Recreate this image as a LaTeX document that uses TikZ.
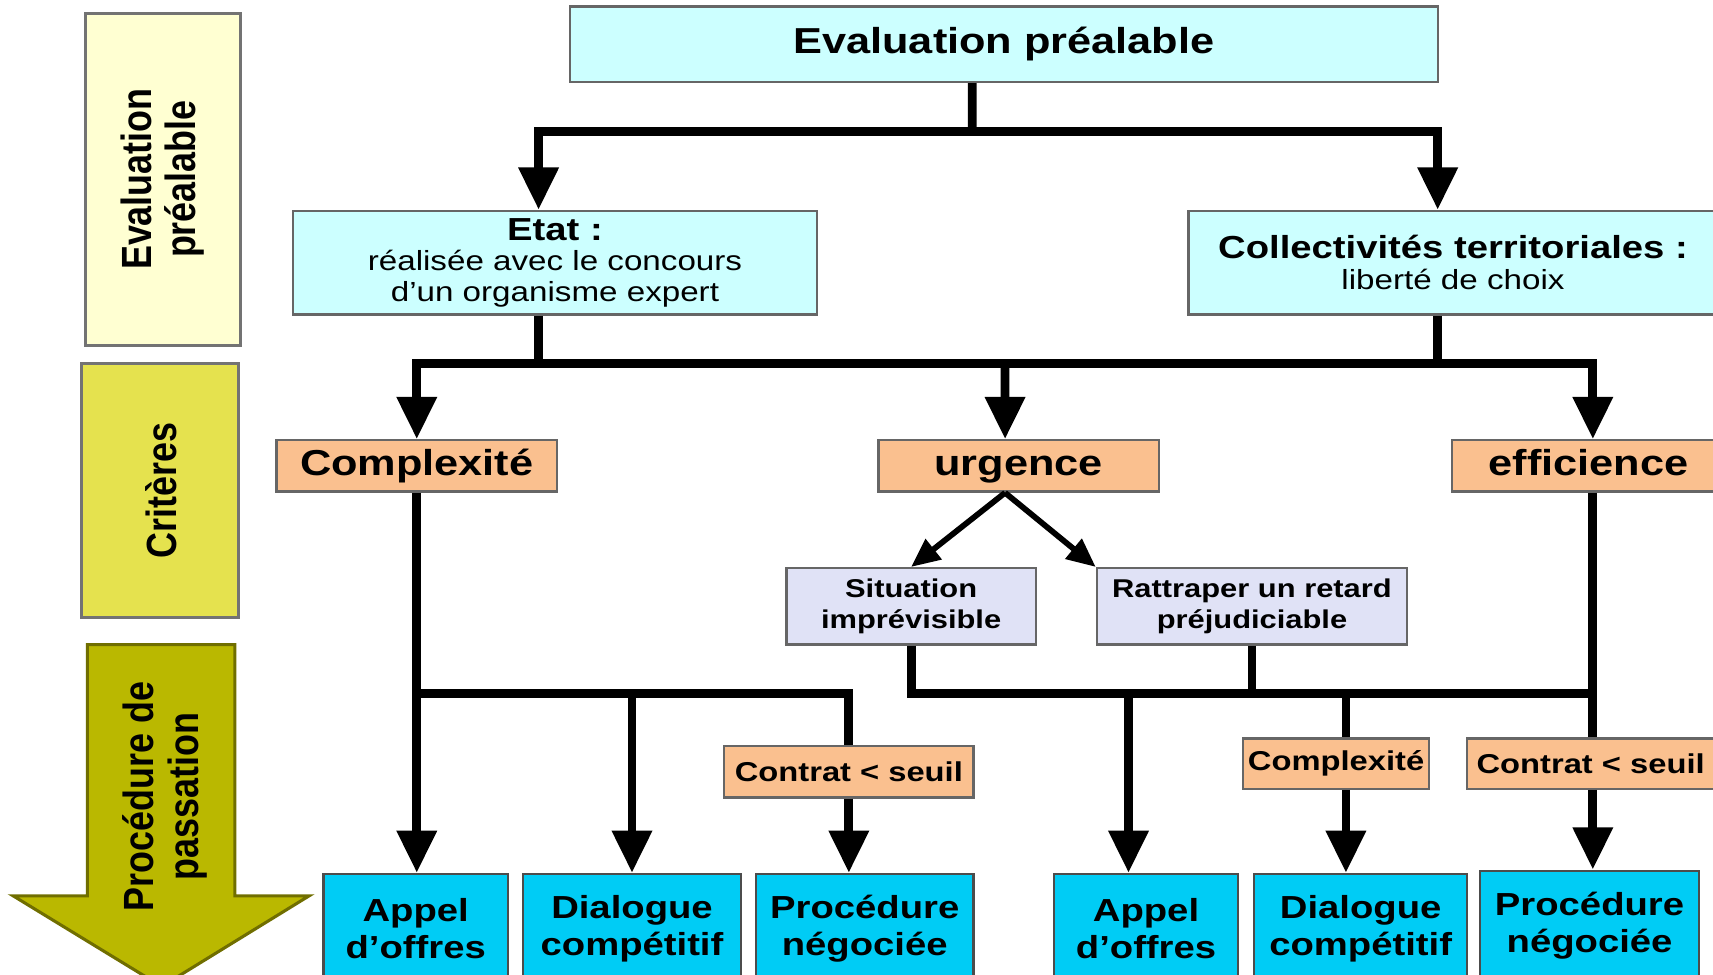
\documentclass[tikz,border=0pt]{standalone}
\usepackage{fontspec}
\setmainfont{Liberation Sans}[FakeStretch=1.2]
\newfontfamily\bandfont{Liberation Sans}[FakeStretch=0.85]
\usepackage{tikz}
\usetikzlibrary{arrows.meta}
\definecolor{paleyellow}{RGB}{255,255,210}
\definecolor{critgreen}{RGB}{229,226,78}
\definecolor{procolive}{RGB}{186,184,0}
\definecolor{palecyan}{RGB}{204,255,255}
\definecolor{peach}{RGB}{250,192,143}
\definecolor{lavender}{RGB}{224,226,246}
\definecolor{procblue}{RGB}{0,204,245}

\begin{document}
\begin{tikzpicture}[x=0.1mm,y=-0.1mm]
\useasboundingbox (0,0) rectangle (1568,892);
\tikzstyle{band}=[draw=black!55,line width=0.8pt]
\tikzstyle{bandtext}=[rotate=90,align=center,font=\bandfont\bfseries\fontsize{11}{11.6}\selectfont]
\tikzstyle{titlebox}=[rectangle,draw=black!60,fill=palecyan,line width=0.6pt,inner sep=0pt,font=\bfseries\fontsize{9.4}{11}\selectfont]
\tikzstyle{govbox}=[rectangle,draw=black!60,fill=palecyan,line width=0.6pt,inner sep=0pt,align=center,font=\fontsize{7.2}{8}\selectfont]
\tikzstyle{critbox}=[rectangle,draw=black!60,fill=peach,line width=0.6pt,inner sep=0pt,text height=7pt,text depth=2pt,font=\bfseries\fontsize{9.4}{11}\selectfont]
\tikzstyle{casebox}=[rectangle,draw=black!60,fill=lavender,line width=0.6pt,inner sep=0pt,align=center,font=\bfseries\fontsize{6.7}{8}\selectfont]
\tikzstyle{condbox}=[rectangle,draw=black!60,fill=peach,line width=0.6pt,inner sep=0pt,font=\bfseries\fontsize{7.1}{8}\selectfont]
\tikzstyle{procbox}=[rectangle,draw=black!70,fill=procblue,line width=0.6pt,inner sep=0pt,align=center,font=\bfseries\fontsize{8.3}{9.7}\selectfont]
\tikzstyle{wire}=[line width=2.3pt]
\tikzstyle{flow}=[line width=2.3pt,-{Triangle[width=10pt,length=11pt]}]
\tikzstyle{thinflow}=[line width=1.5pt,-{Triangle[width=6.5pt,length=7.5pt]}]

% bandeau de gauche
\filldraw[band,fill=paleyellow] (78,12) rectangle (220,316);
\node[bandtext] (bandeval) at (149,164) {Evaluation\\préalable};
\filldraw[band,fill=critgreen] (75,333) rectangle (218,565);
\node[bandtext] (bandcrit) at (148,449) {Critères};
\filldraw[band,fill=procolive,draw=procolive!60!black] (80,590) -- (215,590) -- (215,820) -- (283,820) -- (148,903) -- (12,820) -- (80,820) -- cycle;
\node[bandtext] (bandproc) at (151,729) {Procédure de\\passation};

\node[titlebox,minimum width=79.4mm,minimum height=6.9mm] (top) at (919,40.5) {Evaluation préalable};
\node[govbox,minimum width=48mm,minimum height=9.5mm] (etat) at (508,240.5) {{\bfseries\fontsize{8.3}{8.8}\selectfont Etat :}\\réalisée avec le concours\\d'un organisme expert};
\node[govbox,minimum width=48.4mm,minimum height=9.5mm] (coll) at (1330,240.5) {{\bfseries\fontsize{8.3}{8.8}\selectfont Collectivités territoriales :}\\liberté de choix};

\node[critbox,minimum width=25.7mm,minimum height=4.7mm] (cplx) at (381.5,426.5) {Complexité};
\node[critbox,minimum width=25.7mm,minimum height=4.7mm] (urg) at (932.5,426.5) {urgence};
\node[critbox,minimum width=25mm,minimum height=4.7mm] (effi) at (1454,426.5) {efficience};

\node[casebox,minimum width=22.8mm,minimum height=7mm] (sit) at (834,555) {Situation\\imprévisible};
\node[casebox,minimum width=28.4mm,minimum height=7mm] (ratt) at (1146,555) {Rattraper un retard\\préjudiciable};

\node[condbox,minimum width=22.8mm,minimum height=4.7mm] (seuilA) at (777,706.5) {Contrat < seuil};
\node[condbox,minimum width=17mm,minimum height=4.6mm] (cplxB) at (1223,699) {Complexité};
\node[condbox,minimum width=22.6mm,minimum height=4.6mm] (seuilB) at (1456,699) {Contrat < seuil};

\node[procbox,minimum width=16.9mm,minimum height=10mm] (appA) at (380.5,850) {Appel\\d'offres};
\node[procbox,minimum width=19.9mm,minimum height=10mm] (dlgA) at (578.5,850) {Dialogue\\compétitif};
\node[procbox,minimum width=19.9mm,minimum height=10mm] (prcA) at (791.5,850) {Procédure\\négociée};
\node[procbox,minimum width=16.8mm,minimum height=10mm] (appB) at (1049,850) {Appel\\d'offres};
\node[procbox,minimum width=19.5mm,minimum height=10mm] (dlgB) at (1245.5,850) {Dialogue\\compétitif};
\node[procbox,minimum width=20mm,minimum height=10mm] (prcB) at (1455,847) {Procédure\\négociée};

\coordinate (topfork) at (890,120);
\draw[wire] ([xshift=-2.9mm]top.south) -- (topfork);
\draw[flow] (topfork) -| ([xshift=-1.5mm]etat.north);
\draw[flow] (topfork) -| ([xshift=-1.4mm]coll.north);

\coordinate (critfork) at (920,333);
\draw[wire] ([xshift=-1.5mm]etat.south) |- (critfork);
\draw[wire] ([xshift=-1.4mm]coll.south) |- (critfork);
\draw[flow] (critfork) -| (cplx.north);
\draw[flow] (critfork) -- ([xshift=-1.25mm]urg.north);
\draw[flow] (critfork) -| ([xshift=0.4mm]effi.north);

\draw[thinflow] ([xshift=-1.25mm]urg.south) -- (sit.north);
\draw[thinflow] ([xshift=-1.25mm]urg.south) -- (ratt.north west);

\coordinate (cplxfork) at (381.5,635);
\draw[flow] (cplx.south) -- (cplx.south |- appA.north);
\draw[flow] (cplxfork) -| (dlgA.north);
\draw[wire] (cplxfork) -| (seuilA.north);
\draw[flow] (seuilA.south) -- (seuilA.south |- prcA.north);

\coordinate (urgfork) at (1458,635);
\draw[wire] (sit.south) |- (urgfork);
\draw[wire] (ratt.south) -- (ratt.south |- urgfork);
\draw[flow] ([xshift=-1.6mm]appB.north |- urgfork) -- ([xshift=-1.6mm]appB.north);
\draw[wire] ([xshift=0.9mm]cplxB.north |- urgfork) -- ([xshift=0.9mm]cplxB.north);
\draw[flow] ([xshift=0.9mm]cplxB.south) -- ([xshift=0.9mm]cplxB.south |- dlgB.north);
\draw[wire] ([xshift=0.4mm]effi.south) -- ([xshift=0.4mm]effi.south |- seuilB.north);
\draw[flow] ([xshift=0.4mm]effi.south |- seuilB.south) -- ([xshift=0.4mm]effi.south |- prcB.north);
\end{tikzpicture}
\end{document}
